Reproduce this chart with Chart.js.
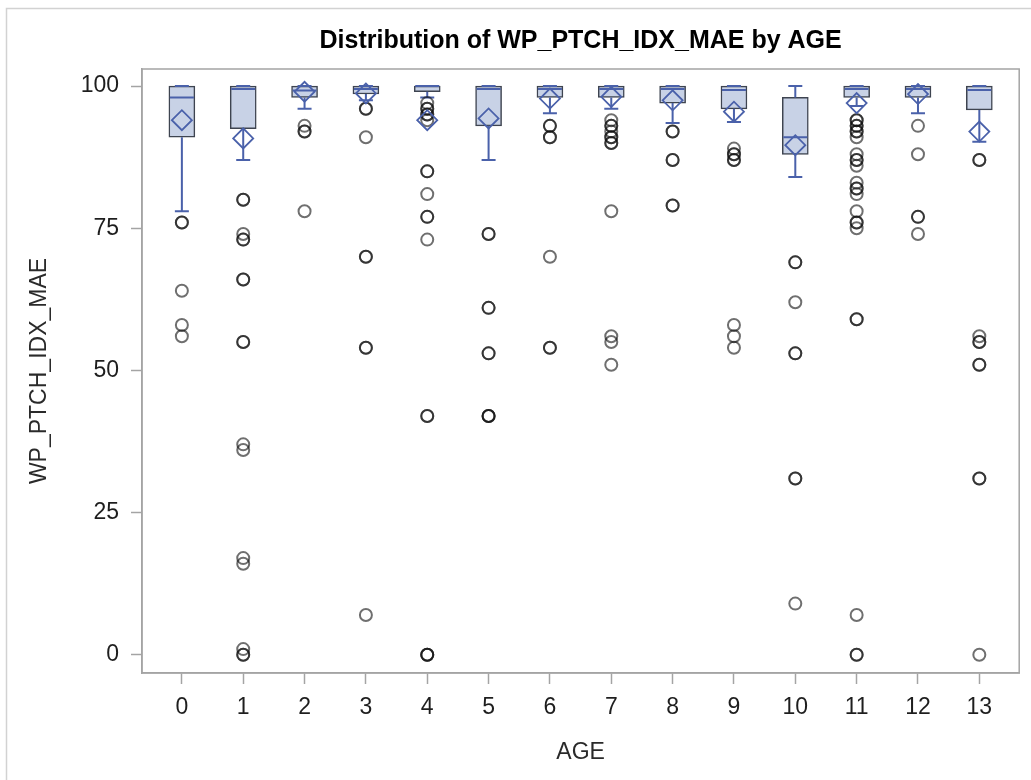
<!DOCTYPE html>
<html>
<head>
<meta charset="utf-8">
<title>Distribution of WP_PTCH_IDX_MAE by AGE</title>
<script src="https://cdn.jsdelivr.net/npm/chart.js@4.4.1/dist/chart.umd.min.js"></script>
<style>
  html, body { margin: 0; padding: 0; background: #ffffff; }
  canvas { display: block; }
</style>
</head>
<body>
<canvas id="chart" width="1031" height="780"></canvas>
<script>
// Box statistics per AGE group
const ages = ['0', '1', '2', '3', '4', '5', '6', '7', '8', '9', '10', '11', '12', '13'];
const q1 = [91, 92.5, 98, 98.6, 99, 93, 98, 98, 97, 96, 88, 98, 98, 95.8];
const medians = [98, 99.5, 99.2, 99.5, 100, 99.5, 99.5, 99.5, 99.5, 99.3, 91, 99.5, 99.5, 99.3];
const q3 = [100, 100, 100, 100, 100, 100, 100, 100, 100, 100, 98, 100, 100, 100];
const whiskerLow = [78, 87, 96, 97.5, 98, 87, 95.2, 96, 93.5, 93.7, 84, 96.5, 95.2, 90.2];
const whiskerHigh = [100, 100, 100, 100, 100, 100, 100, 100, 100, 100, 100, 100, 100, 100];
const means = [94, 90.8, 99, 98.7, 94, 94.3, 97.8, 98.1, 97.5, 95.5, 89.6, 97, 98.6, 92];

// Outlying observations per AGE group (repeated values are separate observations)
const outliers = [
  [76, 76, 64, 58, 56],
  [80, 80, 74, 73, 73, 66, 66, 55, 55, 37, 36, 17, 16, 1, 0, 0],
  [93, 92, 92, 78],
  [96, 96, 91, 70, 70, 54, 54, 7],
  [97, 96, 96, 95, 95, 94, 85, 85, 81, 77, 77, 73, 42, 42, 0, 0, 0],
  [74, 74, 61, 61, 53, 53, 42, 42, 42],
  [93, 93, 91, 91, 70, 54, 54],
  [94, 93, 93, 92, 91, 91, 90, 90, 78, 56, 55, 51],
  [92, 92, 87, 87, 79, 79],
  [89, 88, 88, 87, 87, 58, 56, 54],
  [69, 69, 62, 53, 53, 31, 31, 9],
  [94, 94, 93, 93, 92, 92, 91, 88, 87, 87, 86, 83, 82, 82, 81, 78, 76, 76, 75, 59, 59, 7, 0, 0],
  [93, 88, 77, 77, 74],
  [87, 87, 56, 55, 55, 51, 51, 31, 31, 0]
];

const yTicks = [0, 25, 50, 75, 100];

const titleText = 'Distribution of WP_PTCH_IDX_MAE by AGE';
const xTitle = 'AGE';
const yTitle = 'WP_PTCH_IDX_MAE';

const FONT = "'Liberation Sans', Arial, Helvetica, sans-serif";
const boxFill = '#c8d2e6';
const boxEdge = '#3e4450';
const statBlue = '#4a61aa';
const frameGrey = '#a4a4a4';
const textColor = '#1e1e1e';

const boxData = ages.map((a, i) => ({ x: i, y: [q1[i], q3[i]] }));
const meanData = ages.map((a, i) => ({ x: i, y: means[i] }));
const outlierData = [];
outliers.forEach((vals, i) => vals.forEach(v => outlierData.push({ x: i, y: v })));

// Frame, whiskers, medians and the title
const boxExtras = {
  id: 'boxExtras',
  beforeDraw(chart) {
    const ctx = chart.ctx;
    ctx.save();
    ctx.fillStyle = '#ffffff';
    ctx.fillRect(0, 0, chart.width, chart.height);
    ctx.strokeStyle = '#d2d2d2';
    ctx.lineWidth = 1.5;
    ctx.strokeRect(6.5, 8.5, chart.width + 50, chart.height + 50);
    ctx.restore();
  },
  beforeDatasetsDraw(chart) {
    const ctx = chart.ctx, a = chart.chartArea;
    ctx.save();
    ctx.strokeStyle = frameGrey;
    ctx.lineWidth = 1.5;
    ctx.strokeRect(a.left, a.top, a.right - a.left, a.bottom - a.top);
    ctx.restore();
  },
  afterDatasetDraw(chart, args) {
    if (args.index !== 0) return;
    const ctx = chart.ctx;
    const xs = chart.scales.x, ys = chart.scales.y;
    const bars = chart.getDatasetMeta(0).data;
    ctx.save();
    ctx.strokeStyle = statBlue;
    ctx.lineWidth = 2;
    ctx.lineCap = 'butt';
    const capHalf = 7;
    ages.forEach((a, i) => {
      const px = xs.getPixelForValue(i);
      const half = bars[i].width / 2;
      const pTop = ys.getPixelForValue(q3[i]);
      const pBot = ys.getPixelForValue(q1[i]);
      const pHi = ys.getPixelForValue(whiskerHigh[i]);
      const pLo = ys.getPixelForValue(whiskerLow[i]);
      const pMed = ys.getPixelForValue(medians[i]);
      ctx.beginPath();
      ctx.moveTo(px, pTop); ctx.lineTo(px, pHi);
      ctx.moveTo(px - capHalf, pHi); ctx.lineTo(px + capHalf, pHi);
      ctx.moveTo(px, pBot); ctx.lineTo(px, pLo);
      ctx.moveTo(px - capHalf, pLo); ctx.lineTo(px + capHalf, pLo);
      ctx.moveTo(px - half + 1, pMed); ctx.lineTo(px + half - 1, pMed);
      ctx.stroke();
    });
    ctx.restore();
  },
  afterDraw(chart) {
    const ctx = chart.ctx, a = chart.chartArea;
    ctx.save();
    ctx.fillStyle = '#000000';
    ctx.font = 'bold 25px ' + FONT;
    ctx.textAlign = 'center';
    ctx.textBaseline = 'middle';
    ctx.fillText(titleText, (a.left + a.right) / 2, 41);
    ctx.restore();
  }
};

new Chart(document.getElementById('chart'), {
  type: 'bar',
  data: {
    datasets: [
      {
        type: 'bar',
        data: boxData,
        backgroundColor: boxFill,
        borderColor: boxEdge,
        borderWidth: 1.5,
        borderSkipped: false,
        barThickness: 26,
        order: 3
      },
      {
        type: 'scatter',
        data: outlierData,
        pointStyle: 'circle',
        pointRadius: 6,
        borderWidth: 2,
        borderColor: 'rgba(15,15,15,0.6)',
        backgroundColor: 'rgba(0,0,0,0)',
        order: 2
      },
      {
        type: 'scatter',
        data: meanData,
        pointStyle: 'rectRot',
        pointRadius: 10,
        borderWidth: 1.8,
        borderColor: statBlue,
        backgroundColor: 'rgba(0,0,0,0)',
        order: 1
      }
    ]
  },
  options: {
    responsive: false,
    animation: false,
    events: [],
    layout: { padding: { left: 0, top: 69, right: 9, bottom: 0 } },
    plugins: {
      legend: { display: false },
      tooltip: { enabled: false },
      title: { display: false }
    },
    scales: {
      x: {
        type: 'linear',
        min: -0.65,
        max: 13.65,
        offset: false,
        afterBuildTicks(scale) { scale.ticks = ages.map((a, i) => ({ value: i })); },
        afterFit(scale) { scale.height = 107; },
        ticks: {
          callback: (v) => ages[v],
          font: { family: FONT, size: 23 },
          color: textColor,
          padding: 10,
          maxRotation: 0,
          autoSkip: false
        },
        grid: { display: true, drawOnChartArea: false, offset: false, tickLength: 11, tickColor: frameGrey, tickWidth: 1.5 },
        border: { color: frameGrey, width: 1.5 },
        title: {
          display: true,
          text: xTitle,
          font: { family: FONT, size: 23 },
          color: '#2a2a2a',
          padding: { top: 0, bottom: 14 }
        }
      },
      y: {
        min: -3.2,
        max: 103,
        afterBuildTicks(scale) { scale.ticks = yTicks.map(v => ({ value: v })); },
        afterFit(scale) { scale.width = 142; },
        ticks: {
          font: { family: FONT, size: 23 },
          color: textColor,
          padding: 12
        },
        grid: { display: true, drawOnChartArea: false, tickLength: 11, tickColor: frameGrey, tickWidth: 1.5 },
        border: { color: frameGrey, width: 1.5 },
        title: {
          display: true,
          text: yTitle,
          font: { family: FONT, size: 23 },
          color: '#2a2a2a',
          padding: { top: 26, bottom: 0 }
        }
      }
    }
  },
  plugins: [boxExtras]
});
</script>
</body>
</html>
